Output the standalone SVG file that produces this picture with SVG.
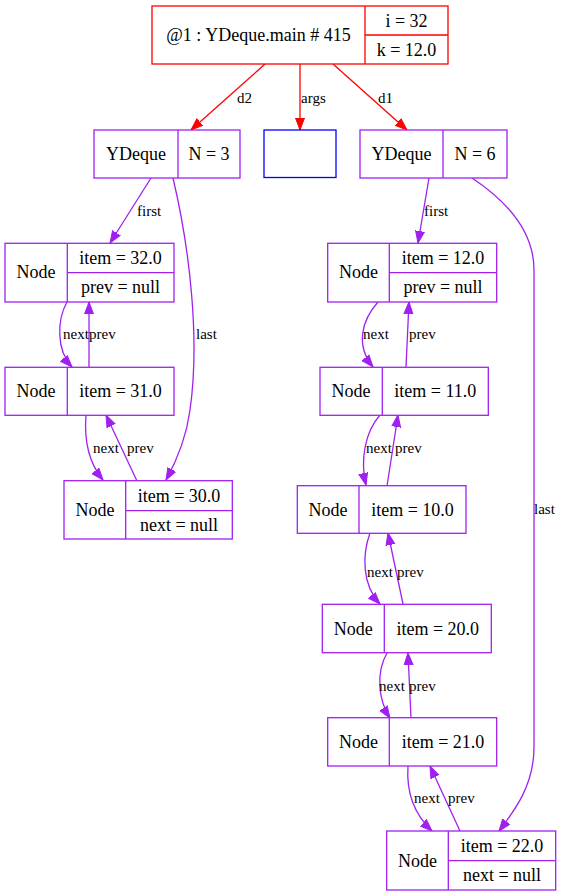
<svg xmlns="http://www.w3.org/2000/svg" width="561" height="896" viewBox="0 0 561 896">
<defs>
<marker id="ar" markerUnits="userSpaceOnUse" markerWidth="14" markerHeight="12" viewBox="0 -6 14 12" refX="12" refY="0" orient="auto"><path d="M0,-4.5 L12,0 L0,4.5 z" fill="#ff0000" stroke="#ff0000" stroke-width="1"/></marker>
<marker id="ap" markerUnits="userSpaceOnUse" markerWidth="14" markerHeight="12" viewBox="0 -6 14 12" refX="12" refY="0" orient="auto"><path d="M0,-4.5 L12,0 L0,4.5 z" fill="#a020f0" stroke="#a020f0" stroke-width="1"/></marker>
</defs>
<style>
text{font-family:"Liberation Serif","Times New Roman",serif;fill:#000}
.n{font-size:18px;text-anchor:middle}
.e{font-size:15px}
.r{fill:#fff;stroke:#ff0000;stroke-width:1.3}
.p{fill:#fff;stroke:#a020f0;stroke-width:1.3}
.b{fill:#fff;stroke:#0000ff;stroke-width:1.3}
.lr{stroke:#ff0000;stroke-width:1.3;fill:none}
.lp{stroke:#a020f0;stroke-width:1.3;fill:none}
.er{fill:none;stroke:#ff0000;stroke-width:1.3;marker-end:url(#ar)}
.ep{fill:none;stroke:#a020f0;stroke-width:1.3;marker-end:url(#ap)}
</style>
<g id="edges">
<path class="er" d="M265,64 L191,130"/>
<path class="er" d="M300,64 L300,130"/>
<path class="er" d="M333,64 L407,130"/>
<path class="ep" d="M151,178 L110,243"/>
<path class="ep" d="M173,178 C190,250 200,340 190,410 C186,440 176,462 166,480"/>
<path class="ep" d="M67,302 C57,320 56,350 72,367"/>
<path class="ep" d="M89,367 L89,302"/>
<path class="ep" d="M86,415 C84,440 88,462 103,480"/>
<path class="ep" d="M137,481 L106,415"/>
<path class="ep" d="M429,178 L418,243"/>
<path class="ep" d="M472,178 C505,200 534,230 534,270 L534,747 C534,785 515,810 499,831"/>
<path class="ep" d="M378,302 C362,320 355,345 373,367"/>
<path class="ep" d="M406,367 L409,302"/>
<path class="ep" d="M380,415 C365,432 360,460 366,485"/>
<path class="ep" d="M387,486 L398,415"/>
<path class="ep" d="M370,533 C362,555 362,585 380,604"/>
<path class="ep" d="M403,604 L388,533"/>
<path class="ep" d="M387,653 C376,672 378,700 390,718"/>
<path class="ep" d="M411,718 L408,653"/>
<path class="ep" d="M408,766 C406,795 415,815 432,831"/>
<path class="ep" d="M460,831 L430,766"/>
<text class="e" x="237" y="103">d2</text>
<text class="e" x="301" y="103">args</text>
<text class="e" x="378" y="103">d1</text>
<text class="e" x="137" y="216">first</text>
<text class="e" x="196" y="339">last</text>
<text class="e" x="63" y="339">next</text>
<text class="e" x="89" y="339">prev</text>
<text class="e" x="93" y="453">next</text>
<text class="e" x="127" y="453">prev</text>
<text class="e" x="424" y="216">first</text>
<text class="e" x="363" y="339">next</text>
<text class="e" x="409" y="339">prev</text>
<text class="e" x="366" y="453">next</text>
<text class="e" x="395" y="453">prev</text>
<text class="e" x="534" y="514">last</text>
<text class="e" x="367" y="577">next</text>
<text class="e" x="397" y="577">prev</text>
<text class="e" x="379" y="691">next</text>
<text class="e" x="409" y="691">prev</text>
<text class="e" x="414" y="803">next</text>
<text class="e" x="448" y="803">prev</text>
</g>
<g id="main">
<rect class="r" x="152" y="6" width="296" height="58"/>
<path class="lr" d="M365,6 V64 M365,35 H448"/>
<text class="n" x="258.5" y="41">@1 : YDeque.main # 415</text>
<text class="n" x="406.5" y="26.5">i = 32</text>
<text class="n" x="406.5" y="56">k = 12.0</text>
</g>
<g id="ydeque_d2">
<rect class="p" x="94" y="130" width="146" height="48"/>
<path class="lp" d="M178,130 V178"/>
<text class="n" x="136" y="160">YDeque</text>
<text class="n" x="209" y="160">N = 3</text>
</g>
<g id="args">
<rect class="b" x="264" y="130" width="72" height="47.5"/>
</g>
<g id="ydeque_d1">
<rect class="p" x="360" y="130" width="147" height="48"/>
<path class="lp" d="M443,130 V178"/>
<text class="n" x="401.5" y="160">YDeque</text>
<text class="n" x="475" y="160">N = 6</text>
</g>
<g id="node32">
<rect class="p" x="5" y="243.3" width="169" height="58.7"/>
<path class="lp" d="M67.3,243.3 V302 M67.3,272.7 H174"/>
<text class="n" x="36" y="278">Node</text>
<text class="n" x="120.5" y="264">item = 32.0</text>
<text class="n" x="120.5" y="293">prev = null</text>
</g>
<g id="node31">
<rect class="p" x="5" y="367.3" width="169" height="48"/>
<path class="lp" d="M67.3,367.3 V415.3"/>
<text class="n" x="36" y="397">Node</text>
<text class="n" x="120.5" y="397">item = 31.0</text>
</g>
<g id="node30">
<rect class="p" x="64" y="480.7" width="168.3" height="58.3"/>
<path class="lp" d="M125.7,480.7 V539 M125.7,510.7 H232.3"/>
<text class="n" x="95" y="516">Node</text>
<text class="n" x="179" y="501.7">item = 30.0</text>
<text class="n" x="179" y="531">next = null</text>
</g>
<g id="node12">
<rect class="p" x="327.7" y="243.3" width="169" height="58.7"/>
<path class="lp" d="M389.3,243.3 V302 M389.3,272.7 H496.7"/>
<text class="n" x="358.5" y="278">Node</text>
<text class="n" x="443" y="264">item = 12.0</text>
<text class="n" x="443" y="293">prev = null</text>
</g>
<g id="node11">
<rect class="p" x="320" y="367.3" width="168.3" height="48"/>
<path class="lp" d="M382.3,367.3 V415.3"/>
<text class="n" x="351" y="397">Node</text>
<text class="n" x="435.3" y="397">item = 11.0</text>
</g>
<g id="node10">
<rect class="p" x="297.3" y="485.7" width="168.7" height="47.6"/>
<path class="lp" d="M359,485.7 V533.3"/>
<text class="n" x="328" y="515.5">Node</text>
<text class="n" x="412.5" y="515.5">item = 10.0</text>
</g>
<g id="node20">
<rect class="p" x="322.3" y="604.3" width="169" height="48.4"/>
<path class="lp" d="M384.3,604.3 V652.7"/>
<text class="n" x="353.3" y="634.5">Node</text>
<text class="n" x="437.8" y="634.5">item = 20.0</text>
</g>
<g id="node21">
<rect class="p" x="327.7" y="717.7" width="169" height="48.3"/>
<path class="lp" d="M389.3,717.7 V766"/>
<text class="n" x="358.5" y="747.8">Node</text>
<text class="n" x="443" y="747.8">item = 21.0</text>
</g>
<g id="node22">
<rect class="p" x="386.7" y="831" width="169" height="59"/>
<path class="lp" d="M448.3,831 V890 M448.3,860.7 H555.7"/>
<text class="n" x="417.5" y="866.5">Node</text>
<text class="n" x="502" y="851.8">item = 22.0</text>
<text class="n" x="502" y="881.3">next = null</text>
</g>
</svg>
